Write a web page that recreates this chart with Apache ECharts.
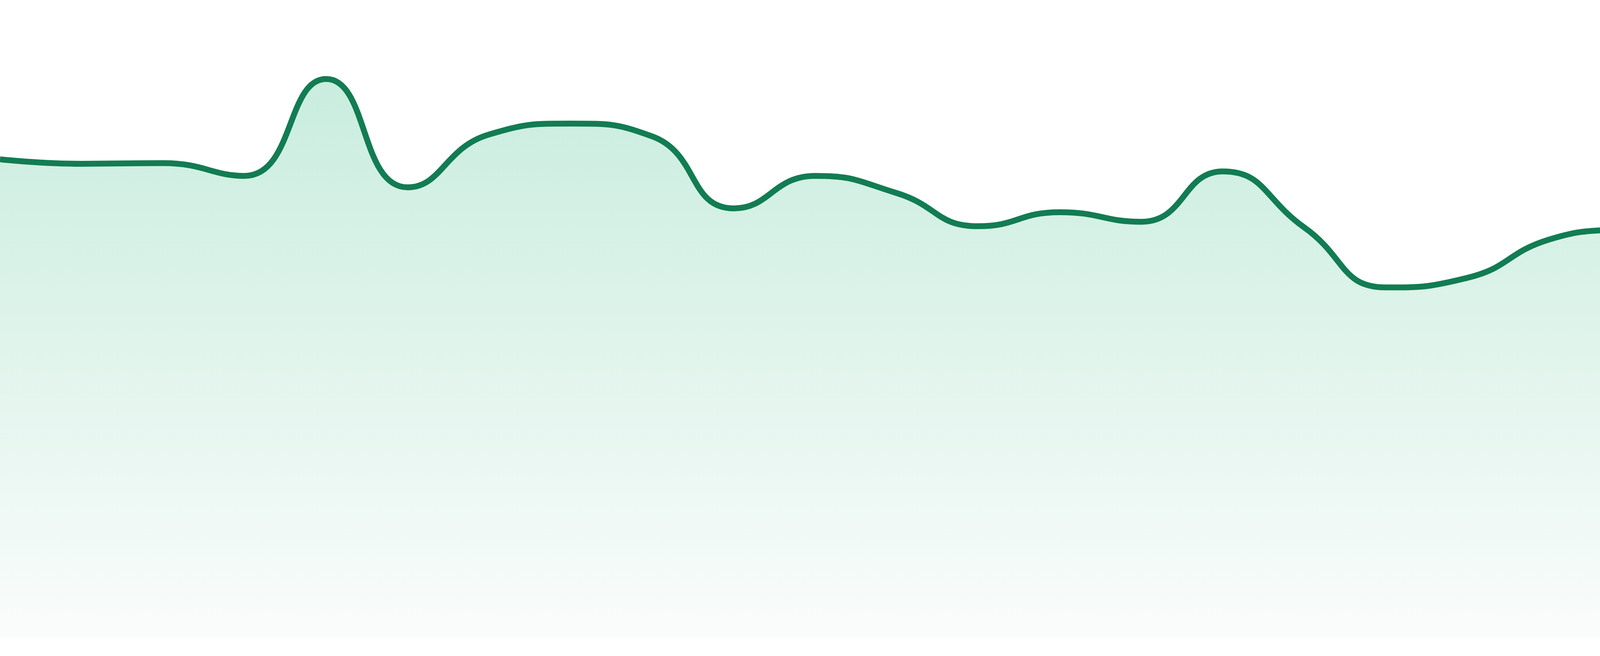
<!DOCTYPE html>
<html>
<head>
<meta charset="utf-8">
<script src="https://cdn.jsdelivr.net/npm/echarts@6/dist/echarts.min.js"></script>
<style>
html,body{margin:0;padding:0;background:#ffffff;}
#chart{width:4800px;height:1680px;}
</style>
</head>
<body>
<div id="chart"></div>
<script>
// category labels (not shown in the picture)
const categories = ['1','2','3','4','5','6','7','8','9','10','11','12','13','14','15','16','17','18','19','20','21','22','23','24'];
// values (relative units, axis hidden, 0 = baseline, 100 = top of plot)
const values = [75.0, 74.3, 74.4, 72.4, 87.6, 70.6, 78.9, 80.6, 78.6, 67.3, 72.4, 69.7,
                64.5, 66.7, 65.2, 73.1, 64.3, 54.9, 56.4, 62.4, 64.3, 65.8, 75.0, 71.4];

const chart = echarts.init(document.getElementById('chart'));
chart.setOption({
  animation: false,
  backgroundColor: '#ffffff',
  grid: { left: 0, right: 0, top: 0, bottom: 48 },
  xAxis: {
    type: 'category',
    data: categories,
    boundaryGap: false,
    show: false
  },
  yAxis: {
    type: 'value',
    min: 0,
    max: 100,
    show: false
  },
  series: [{
    type: 'line',
    data: values,
    smooth: true,
    symbol: 'none',
    lineStyle: { color: '#127c53', width: 15 },
    areaStyle: {
      color: new echarts.graphic.LinearGradient(0, 0, 0, 1, [
        { offset: 0, color: '#b1e5cf' },
        { offset: 1, color: '#f8fbfa' }
      ])
    }
  }]
});
</script>
</body>
</html>
